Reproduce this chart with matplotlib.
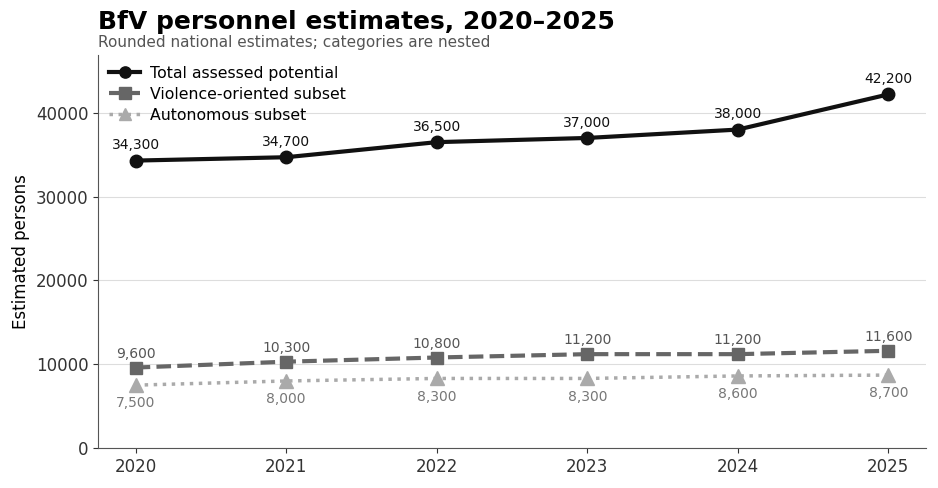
import matplotlib
matplotlib.use("Agg")
import matplotlib.pyplot as plt

years = [2020, 2021, 2022, 2023, 2024, 2025]
total = [34300, 34700, 36500, 37000, 38000, 42200]
violence = [9600, 10300, 10800, 11200, 11200, 11600]
autonomous = [7500, 8000, 8300, 8300, 8600, 8700]

plt.rcParams['font.family'] = ['DejaVu Sans']
fig = plt.figure(figsize=(9.38, 4.88), dpi=100)
ax = fig.add_axes([98/938, 40/488, 828/938, 393/488])

ax.plot(years, total, color='#111111', lw=3, marker='o', ms=9, label='Total assessed potential', zorder=4)
ax.plot(years, violence, color='#666666', lw=3, ls=(0, (3.5, 1.5)), marker='s', ms=9, label='Violence-oriented subset', zorder=3)
ax.plot(years, autonomous, color='#aaaaaa', lw=2.5, ls=(0, (1, 1.6)), marker='^', ms=10, label='Autonomous subset', zorder=2)

for x, y in zip(years, total):
    ax.annotate(f"{y:,}", (x, y), xytext=(0, 6), textcoords='offset points', ha='center', va='bottom', fontsize=10, color='#111111')
for x, y in zip(years, violence):
    ax.annotate(f"{y:,}", (x, y), xytext=(0, 5), textcoords='offset points', ha='center', va='bottom', fontsize=10, color='#555555')
for x, y in zip(years, autonomous):
    ax.annotate(f"{y:,}", (x, y), xytext=(0, -8), textcoords='offset points', ha='center', va='top', fontsize=10, color='#777777')

ax.set_xlim(2019.75, 2025.25)
ax.set_ylim(0, 46900)
ax.set_xticks(years)
ax.set_yticks([0, 10000, 20000, 30000, 40000])
ax.tick_params(labelsize=12, colors='#333333')
ax.tick_params(axis='both', color='#333333')
ax.set_ylabel('Estimated persons', fontsize=12)
ax.grid(axis='y', color='#dddddd', lw=0.8)
ax.set_axisbelow(True)
for s in ['top', 'right']:
    ax.spines[s].set_visible(False)
for s in ['left', 'bottom']:
    ax.spines[s].set_color('#555555')

ax.legend(loc='upper left', frameon=False, fontsize=11.3, handlelength=2.0, handletextpad=0.6,
          borderaxespad=0.3, labelspacing=0.38, markerscale=0.9)

fig.text(98/938, 1 - 22/488, 'BfV personnel estimates, 2020–2025', fontsize=18, fontweight='bold', va='center', ha='left')
fig.text(98/938, 1 - 43/488, 'Rounded national estimates; categories are nested', fontsize=11, color='#555555', va='center', ha='left')

fig.savefig('out.png', dpi=100)
